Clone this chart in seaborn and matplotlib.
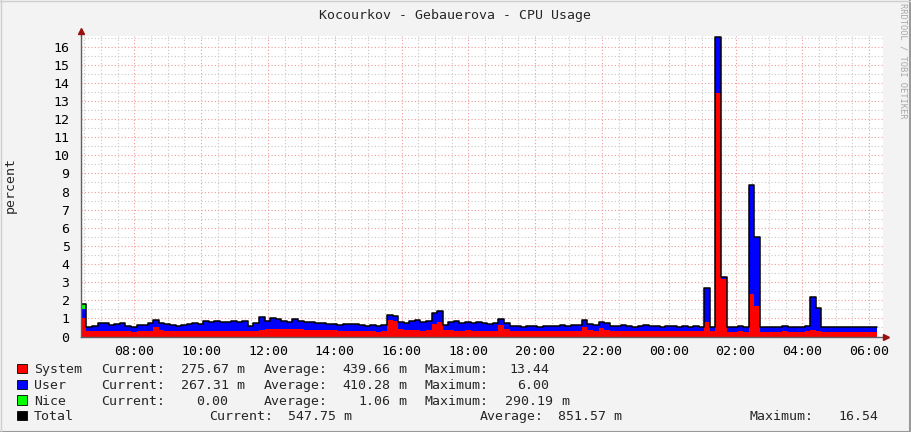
import numpy as np
import pandas as pd
import matplotlib
matplotlib.use("Agg")
import matplotlib.pyplot as plt
import seaborn as sns
from matplotlib.ticker import MultipleLocator, FuncFormatter
from matplotlib.lines import Line2D
from matplotlib.patches import Rectangle

# ---------------- data (10-minute steps, starting 06:24) ----------------
start_hour = 6.40
step_hours = 1 / 6

system = [1.00, 0.30, 0.28, 0.32, 0.30, 0.28, 0.30, 0.32, 0.28, 0.27,
          0.30, 0.30, 0.32, 0.55, 0.35, 0.30, 0.28, 0.28, 0.30, 0.30,
          0.30, 0.30, 0.32, 0.30, 0.30, 0.30, 0.30, 0.30, 0.30, 0.32,
          0.30, 0.30, 0.38, 0.40, 0.42, 0.42, 0.40, 0.40, 0.42, 0.40,
          0.38, 0.38, 0.36, 0.35, 0.35, 0.35, 0.33, 0.33, 0.33, 0.33,
          0.30, 0.28, 0.30, 0.26, 0.30, 0.90, 0.85, 0.40, 0.35, 0.35,
          0.35, 0.33, 0.35, 0.70, 0.80, 0.35, 0.35, 0.33, 0.33, 0.35,
          0.33, 0.33, 0.33, 0.32, 0.33, 0.65, 0.40, 0.30, 0.30, 0.28,
          0.30, 0.30, 0.28, 0.30, 0.30, 0.30, 0.32, 0.30, 0.30, 0.32,
          0.55, 0.35, 0.30, 0.45, 0.35, 0.30, 0.30, 0.32, 0.30, 0.28,
          0.30, 0.32, 0.30, 0.30, 0.28, 0.30, 0.30, 0.28, 0.30, 0.28,
          0.30, 0.28, 0.80, 0.28, 13.44, 3.20, 0.25, 0.25, 0.28, 0.27,
          2.35, 1.70, 0.25, 0.25, 0.26, 0.27, 0.28, 0.27, 0.27, 0.26,
          0.28, 0.35, 0.30, 0.25, 0.26, 0.25, 0.25, 0.26, 0.26, 0.26,
          0.27, 0.27, 0.2757]

user = [0.51, 0.25, 0.32, 0.40, 0.45, 0.37, 0.40, 0.43, 0.32, 0.28,
        0.32, 0.35, 0.40, 0.35, 0.40, 0.40, 0.37, 0.32, 0.32, 0.40,
        0.42, 0.40, 0.53, 0.48, 0.55, 0.48, 0.50, 0.58, 0.52, 0.53,
        0.30, 0.45, 0.67, 0.45, 0.58, 0.53, 0.48, 0.40, 0.53, 0.45,
        0.42, 0.42, 0.39, 0.37, 0.35, 0.35, 0.32, 0.35, 0.37, 0.37,
        0.32, 0.30, 0.35, 0.34, 0.35, 0.30, 0.30, 0.40, 0.40, 0.50,
        0.55, 0.47, 0.50, 0.60, 0.60, 0.30, 0.45, 0.52, 0.42, 0.45,
        0.42, 0.47, 0.42, 0.38, 0.39, 0.30, 0.35, 0.30, 0.30, 0.27,
        0.28, 0.30, 0.27, 0.30, 0.30, 0.30, 0.30, 0.30, 0.32, 0.33,
        0.35, 0.35, 0.35, 0.33, 0.37, 0.30, 0.28, 0.30, 0.30, 0.27,
        0.28, 0.30, 0.30, 0.28, 0.27, 0.28, 0.28, 0.27, 0.28, 0.27,
        0.30, 0.27, 1.90, 0.27, 3.10, 0.10, 0.25, 0.25, 0.30, 0.28,
        6.00, 3.80, 0.25, 0.25, 0.24, 0.28, 0.32, 0.28, 0.28, 0.26,
        0.32, 1.85, 1.30, 0.25, 0.26, 0.25, 0.25, 0.26, 0.26, 0.26,
        0.28, 0.28, 0.2673]

nice = [0.29] + [0.0] * 142

legend_names = ["System", "User", "Nice", "Total"]
legend_colors = ["#FF0000", "#0000FF", "#00FF00", "#000000"]
cur_vals = ["275.67 m", "267.31 m", "0.00", "547.75 m"]
avg_vals = ["439.66 m", "410.28 m", "1.06 m", "851.57 m"]
max_vals = ["13.44", "6.00", "290.19 m", "16.54"]

title = "Kocourkov - Gebauerova - CPU Usage"
ylabel = "percent"
watermark = "RRDTOOL / TOBI OETIKER"

# ---------------- figure ----------------
W, H = 911, 432
sns.set_theme(style="white")
MONO = ["DejaVu Sans Mono", "DejaVu Sans"]
plt.rcParams["font.family"] = MONO
FS = 9.5

fig = plt.figure(figsize=(W / 100, H / 100), dpi=100)
fig.patch.set_facecolor("#F3F3F3")

ax_l, ax_r, ax_t, ax_b = 80.7, 882.7, 36.0, 336.5
ax = fig.add_axes([ax_l / W, (H - ax_b) / H, (ax_r - ax_l) / W, (ax_b - ax_t) / H])
ax.set_facecolor("white")

px_per_hour = 33.4
px_per_unit = 18.12
x0 = 6.395
ax.set_xlim(x0, x0 + (ax_r - ax_l) / px_per_hour)
ax.set_ylim(0, (ax_b - ax_t) / px_per_unit)

n = len(system)
times = start_hour + np.arange(n) * step_hours
df = pd.DataFrame({"time": times, "system": system, "user": user, "nice": nice})
df["total"] = df["system"] + df["user"] + df["nice"]

t_ext = np.append(df["time"].values, df["time"].values[-1] + step_hours)
s_ext = np.append(df["system"].values, df["system"].values[-1])
su_ext = np.append((df["system"] + df["user"]).values, (df["system"] + df["user"]).values[-1])
tot_ext = np.append(df["total"].values, df["total"].values[-1])

ax.fill_between(t_ext, 0, s_ext, step="post", color="#FF0000", lw=0, zorder=3)
ax.fill_between(t_ext, s_ext, su_ext, step="post", color="#0000FF", lw=0, zorder=3)
ax.fill_between(t_ext, su_ext, tot_ext, step="post", color="#00FF00", lw=0, zorder=3)
line_df = pd.DataFrame({"time": t_ext, "total": tot_ext})
sns.lineplot(data=line_df, x="time", y="total", ax=ax, color="black", lw=1.1,
             drawstyle="steps-post", estimator=None, sort=False, zorder=4)

# grid
ax.xaxis.set_major_locator(MultipleLocator(2))
ax.xaxis.set_minor_locator(MultipleLocator(0.5))
ax.yaxis.set_major_locator(MultipleLocator(1))
ax.yaxis.set_minor_locator(MultipleLocator(0.5))
ax.xaxis.set_major_formatter(FuncFormatter(lambda v, p: f"{int(round(v)) % 24:02d}:00"))
ax.yaxis.set_major_formatter(FuncFormatter(lambda v, p: f"{int(round(v))}"))
ax.grid(which="major", color="#F29A9A", linestyle=(0, (1, 2)), lw=0.8, zorder=1)
ax.grid(which="minor", color="#C8C8C8", linestyle=(0, (1, 2)), lw=0.8, zorder=1)
ax.set_axisbelow(True)

ax.tick_params(axis="both", which="both", direction="inout", color="#808080",
               length=4, width=0.8, labelsize=FS, labelcolor="black")
ax.tick_params(axis="y", which="major", pad=6)
ax.tick_params(axis="x", which="major", pad=4)
ax.set_xlabel("")
ax.set_ylabel("")

for side in ["top", "right"]:
    ax.spines[side].set_visible(False)
for side in ["left", "bottom"]:
    ax.spines[side].set_color("#606060")
    ax.spines[side].set_linewidth(1.0)
    ax.spines[side].set_zorder(5)

# axis extensions and arrows
ax.plot([0, 0], [1, 1.015], transform=ax.transAxes, color="#606060", lw=1.0, clip_on=False)
ax.plot([1, 1.005], [0, 0], transform=ax.transAxes, color="#606060", lw=1.0, clip_on=False)
ax.plot([0], [1 + 4.5 / (ax_b - ax_t)], marker="^", ms=5, color="#9A1010",
        transform=ax.transAxes, clip_on=False, zorder=6)
ax.plot([1 + 3.5 / (ax_r - ax_l)], [0], marker=">", ms=5, color="#9A1010",
        transform=ax.transAxes, clip_on=False, zorder=6)

def ftxt(x, y, s, **kw):
    kw.setdefault("fontsize", FS)
    kw.setdefault("family", MONO)
    return fig.text(x / W, 1 - y / H, s, **kw)

# title, y label, watermark
ftxt(455, 19.5, title, ha="center", va="baseline")
ftxt(10.5, 185, ylabel, ha="center", va="center", rotation=90)
ftxt(903, 3, watermark, ha="center", va="top", rotation=270, fontsize=6.3, color="#A8A8A8")

# legend
rows_y = [373.3, 389.0, 404.6, 420.2]
for i, (name, col) in enumerate(zip(legend_names, legend_colors)):
    yb = rows_y[i]
    fig.add_artist(Rectangle((17.3 / W, 1 - yb / H), 10 / W, 9.5 / H,
                             transform=fig.transFigure, facecolor=col,
                             edgecolor="black", lw=0.6))
    ftxt(34, yb, name, va="baseline")
for i in range(3):
    yb = rows_y[i]
    ftxt(100.7, yb, "Current:", va="baseline")
    ftxt(228.5, yb, cur_vals[i].replace(" m", ""), va="baseline", ha="right")
    if cur_vals[i].endswith(" m"):
        ftxt(236.5, yb, "m", va="baseline")
    ftxt(263.3, yb, "Average:", va="baseline")
    ftxt(390.3, yb, avg_vals[i].replace(" m", ""), va="baseline", ha="right")
    if avg_vals[i].endswith(" m"):
        ftxt(398.3, yb, "m", va="baseline")
    ftxt(424.3, yb, "Maximum:", va="baseline")
    mv = max_vals[i]
    if mv.endswith(" m"):
        ftxt(553.3, yb, mv.replace(" m", ""), va="baseline", ha="right")
        ftxt(561.3, yb, "m", va="baseline")
    else:
        ftxt(549.3, yb, mv, va="baseline", ha="right")
yb = rows_y[3]
ftxt(209, yb, "Current:", va="baseline")
ftxt(288.3, yb, cur_vals[3], va="baseline")
ftxt(480, yb, "Average:", va="baseline")
ftxt(558.3, yb, avg_vals[3], va="baseline")
ftxt(750, yb, "Maximum:", va="baseline")
ftxt(838.3, yb, max_vals[3], va="baseline")

# image frame (3D-ish border)
fig.add_artist(Line2D([0, 1], [0.5 / H, 0.5 / H], transform=fig.transFigure, color="#9A9A9A", lw=1.5))
fig.add_artist(Line2D([1 - 1 / W, 1 - 1 / W], [0, 1], transform=fig.transFigure, color="#9A9A9A", lw=1.5))
fig.add_artist(Line2D([0, 1], [1 - 0.5 / H, 1 - 0.5 / H], transform=fig.transFigure, color="#CFCFCF", lw=1))
fig.add_artist(Line2D([0.5 / W, 0.5 / W], [0, 1], transform=fig.transFigure, color="#CFCFCF", lw=1))

fig.savefig("out.png", dpi=100, facecolor=fig.get_facecolor())
